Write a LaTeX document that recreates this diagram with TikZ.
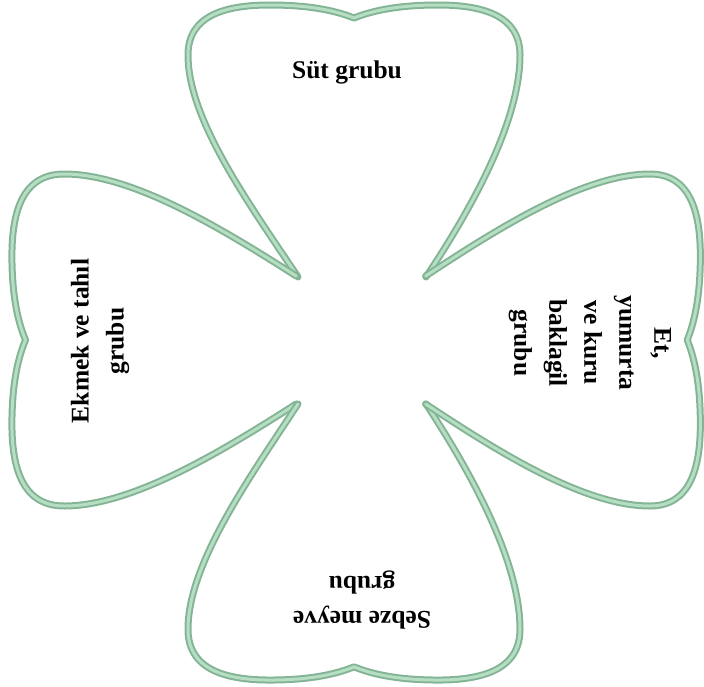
\documentclass[tikz,border=0pt]{standalone}
\usepackage{fontspec}
\setmainfont{Liberation Serif}
\definecolor{leafdark}{HTML}{84B496}
\definecolor{leaflight}{HTML}{B6DEC3}
\tikzset{
  leafout/.style={draw=leafdark, line width=7pt, line join=round, line cap=round},
  leafin/.style={draw=leaflight, line width=3pt, line join=round, line cap=round},
  lbl/.style={font=\bfseries\fontsize{25.5}{35}\selectfont, align=center, inner sep=0pt, text=black}
}
\newcommand{\leafpath}[1]{%
  (-64,-63) .. controls (-112,-135) and ({#1-166},-220) .. ({#1-166},-285)
  .. controls ({#1-166},-325) and ({#1-128},-335) .. ({#1-84},-335)
  .. controls ({#1-40},-335) and ({#1-15},-328) .. ({#1},-322)
  .. controls ({#1+15},-328) and ({#1+40},-335) .. ({#1+84},-335)
  .. controls ({#1+128},-335) and ({#1+166},-325) .. ({#1+166},-285)
  .. controls ({#1+166},-220) and (112,-135) .. (64,-63)}
\begin{document}
\begin{tikzpicture}[x=1pt,y=-1pt]
\useasboundingbox (0,0) rectangle (704,686);
\foreach \ang/\s/\d in {0/1/-8, 90/1.045/0, 180/1.015/8, 270/1.01/0} {
  \begin{scope}[shift={(362,340)}, rotate=\ang, yscale=\s]
    \draw[leafout] \leafpath{\d};
    \draw[leafin] \leafpath{\d};
  \end{scope}
}
\node[lbl] (sut) at (347,72) {Süt grubu};
\node[lbl, rotate=90] (ekmek) at (100,341) {Ekmek ve tahıl\\grubu};
\node[lbl, rotate=-90] (et) at (590,343) {Et,\\yumurta\\ve kuru\\baklagil\\grubu};
\node[lbl, rotate=180] (sebze) at (362,600) {Sebze meyve\\grubu};
\end{tikzpicture}
\end{document}
